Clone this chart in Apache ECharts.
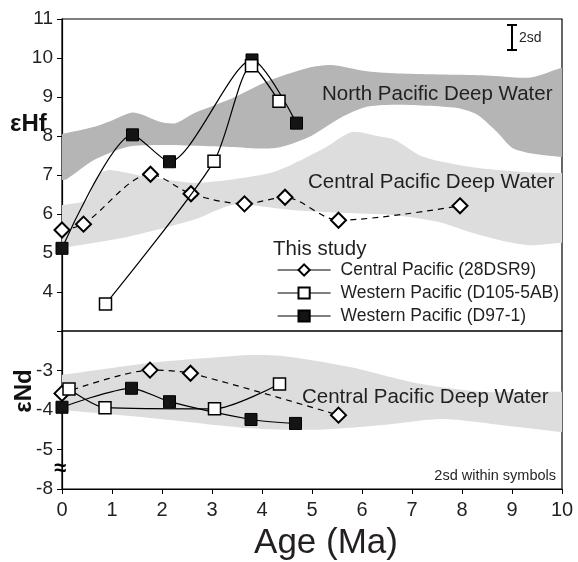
<!DOCTYPE html>
<html><head><meta charset="utf-8">
<script src="https://cdn.jsdelivr.net/npm/echarts@6/dist/echarts.min.js"></script>
<style>html,body{margin:0;padding:0;background:#fff}#c{width:578px;height:562px}</style>
</head><body><div id="c"></div>
<script>
// ---------- data ----------
const seriesNames = ['Central Pacific (28DSR9)', 'Western Pacific (D105-5AB)', 'Western Pacific (D97-1)'];

// upper panel (eHf)
const cpHfAge = [0.0, 0.43, 1.77, 2.58, 3.65, 4.46, 5.53, 7.96];
const cpHf    = [5.59, 5.74, 7.02, 6.52, 6.26, 6.43, 5.84, 6.21];
const wpAHfAge = [0.87, 3.04, 3.79, 4.34];
const wpAHf    = [3.69, 7.35, 9.80, 8.89];
const wpBHfAge = [0.0, 1.41, 2.15, 3.80, 4.69];
const wpBHf    = [5.12, 8.03, 7.34, 9.95, 8.33];

// lower panel (eNd)
const cpNdAge = [0.0, 1.76, 2.57, 5.53];
const cpNd    = [-3.58, -2.99, -3.07, -4.13];
const wpANdAge = [0.14, 0.86, 3.05, 4.35];
const wpANd    = [-3.47, -3.94, -3.97, -3.34];
const wpBNdAge = [0.0, 1.39, 2.15, 3.78, 4.67];
const wpBNd    = [-3.93, -3.45, -3.79, -4.24, -4.34];

// water-mass envelopes [age, value]
const npdwUpper = [[-0.2,8.0],[0,8.05],[0.63,8.23],[1.0,8.4],[1.43,8.6],[1.97,8.36],[2.27,8.33],[2.63,8.58],[3.37,8.95],[4.1,9.4],[4.93,9.75],[5.4,9.82],[6.1,9.66],[6.8,9.6],[8.5,9.55],[9.36,9.5],[10,9.75],[10.2,9.8]];
const npdwLower = [[-0.2,6.85],[0,6.87],[0.1,6.9],[0.63,7.38],[1.3,7.72],[1.97,7.77],[3.37,7.72],[4.26,7.69],[4.93,7.97],[5.6,8.49],[6.06,8.74],[6.66,8.8],[7.9,8.72],[8.3,8.55],[8.7,8.1],[9.0,7.7],[9.4,7.55],[10,7.46],[10.2,7.44]];
const cpdwHfUpper = [[-0.2,6.2],[0,6.23],[0.5,6.36],[0.63,6.82],[0.77,7.05],[0.97,7.13],[1.63,6.97],[2.63,6.8],[3.3,6.87],[4.26,7.09],[5.26,7.7],[5.8,8.1],[6.3,8.0],[6.66,7.9],[7.22,7.47],[8.22,7.2],[9.22,7.08],[10,7.05],[10.2,7.05]];
const cpdwHfLower = [[-0.2,5.1],[0,5.13],[1.3,5.41],[2.63,5.85],[3.3,6.2],[3.6,6.25],[4.6,6.1],[5.6,6.03],[6.66,5.97],[7.56,5.79],[8.22,5.51],[8.76,5.33],[9.36,5.2],[10,5.26],[10.2,5.27]];
const cpdwNdUpper = [[-0.2,-3.12],[0,-3.11],[1.76,-2.81],[3.76,-2.61],[4.42,-2.63],[5.76,-2.91],[7.1,-3.32],[8.42,-3.54],[10,-3.54],[10.2,-3.54]];
const cpdwNdLower = [[-0.2,-3.98],[0,-4.0],[1.76,-4.2],[3.76,-4.46],[5.1,-4.5],[6.42,-4.38],[7.62,-4.23],[8.76,-4.38],[10,-4.56],[10.2,-4.58]];

// tick labels
const ageTickLabels = ['0','1','2','3','4','5','6','7','8','9','10'];
const hfTickValues = [4,5,6,7,8,9,10,11];
const ndTickValues = [-6,-5,-4,-3];
const ndTickText   = ['-8','-5','-4','-3'];

// ---------- chart ----------
const FONT = 'Liberation Sans, Arial, sans-serif';
const INK = '#231f20';
const pairs = (xs, ys) => xs.map((x, i) => [x, ys[i]]);

function band(upper, lower, color, idx) {
  return {
    type: 'custom', xAxisIndex: idx, yAxisIndex: idx, silent: true, z: 1, clip: true,
    data: [[0, 0]],
    renderItem: (params, api) => {
      const pts = upper.map(p => api.coord(p)).concat(lower.slice().reverse().map(p => api.coord(p)));
      return { type: 'polygon', shape: { points: pts, smooth: 0.25 }, style: { fill: color } };
    }
  };
}

function lineSeries(name, data, kind, idx, smooth) {
  const s = {
    type: 'line', name: name, xAxisIndex: idx, yAxisIndex: idx, data: data,
    smooth: smooth, animation: false, showAllSymbol: true,
    lineStyle: { color: '#000', width: 1.2, type: 'solid' }
  };
  if (kind === 'diamond') {
    s.symbol = 'diamond'; s.symbolSize = [15, 15]; s.z = 4;
    s.itemStyle = { color: '#fff', borderColor: '#000', borderWidth: 2 };
    s.lineStyle.type = [6, 5];
  } else if (kind === 'open') {
    s.symbol = 'rect'; s.symbolSize = 12; s.z = 5;
    s.itemStyle = { color: '#fff', borderColor: '#000', borderWidth: 1.5 };
  } else {
    s.symbol = 'rect'; s.symbolSize = 12; s.z = 3;
    s.itemStyle = { color: '#141414', borderColor: '#000', borderWidth: 1 };
  }
  return s;
}

const chart = echarts.init(document.getElementById('c'), null, { renderer: 'canvas' });
chart.setOption({
  animation: false,
  backgroundColor: '#fff',
  textStyle: { fontFamily: FONT },
  grid: [
    { left: 62, right: 16, top: 19, height: 312, show: true, borderColor: '#000', borderWidth: 1.2, backgroundColor: 'transparent' },
    { left: 62, right: 16, top: 331, height: 158, show: true, borderColor: '#000', borderWidth: 1.2, backgroundColor: 'transparent' }
  ],
  xAxis: [
    { type: 'value', gridIndex: 0, min: 0, max: 10, interval: 1,
      axisLine: { show: false }, axisTick: { show: false }, axisLabel: { show: false }, splitLine: { show: false } },
    { type: 'value', gridIndex: 1, min: 0, max: 10, interval: 1,
      axisLine: { show: true, lineStyle: { color: '#000', width: 1.2 } },
      axisTick: { show: true, length: 5, lineStyle: { color: '#000' } },
      axisLabel: { fontSize: 20, color: INK, margin: 11, fontFamily: FONT, formatter: v => ageTickLabels[Math.round(v)] },
      splitLine: { show: false } }
  ],
  yAxis: [
    { type: 'value', gridIndex: 0, min: 3, max: 11, interval: 1,
      axisLine: { show: true, lineStyle: { color: '#000', width: 1.2 } },
      axisTick: { show: true, length: 5, lineStyle: { color: '#000' } },
      axisLabel: { fontSize: 19, color: INK, margin: 9, fontFamily: FONT,
        formatter: v => hfTickValues.includes(v) ? String(v) : '' },
      splitLine: { show: false } },
    { type: 'value', gridIndex: 1, min: -6, max: -2, interval: 1,
      axisLine: { show: true, lineStyle: { color: '#000', width: 1.2 } },
      axisTick: { show: true, length: 5, lineStyle: { color: '#000' } },
      axisLabel: { fontSize: 19, color: INK, margin: 9, fontFamily: FONT,
        formatter: v => { const i = ndTickValues.indexOf(v); return i >= 0 ? ndTickText[i] : ''; } },
      splitLine: { show: false } }
  ],
  legend: {
    data: seriesNames, orient: 'vertical', left: 277, top: 260, padding: 0,
    itemWidth: 53, itemHeight: 14, itemGap: 3,
    textStyle: { fontSize: 17.5, color: INK, fontFamily: FONT, padding: [0, 0, 0, 5], lineHeight: 20 },
    lineStyle: { type: 'solid', color: '#000', width: 1.2 },
    selectedMode: false
  },
  series: [
    band(npdwUpper, npdwLower, '#b5b5b5', 0),
    band(cpdwHfUpper, cpdwHfLower, '#dddddd', 0),
    band(cpdwNdUpper, cpdwNdLower, '#dddddd', 1),
    lineSeries(seriesNames[2], pairs(wpBHfAge, wpBHf), 'filled', 0, 0.25),
    lineSeries(seriesNames[0], pairs(cpHfAge, cpHf), 'diamond', 0, 0.3),
    lineSeries(seriesNames[1], pairs(wpAHfAge, wpAHf), 'open', 0, 0.25),
    lineSeries(seriesNames[2], pairs(wpBNdAge, wpBNd), 'filled', 1, 0.25),
    lineSeries(seriesNames[0], pairs(cpNdAge, cpNd), 'diamond', 1, 0.25),
    lineSeries(seriesNames[1], pairs(wpANdAge, wpANd), 'open', 1, 0.25)
  ],
  graphic: [
    { type: 'text', left: 322, top: 84, z: 2, style: { text: 'North Pacific Deep Water', font: '20.5px ' + FONT, fill: INK } },
    { type: 'text', left: 308, top: 172, z: 2, style: { text: 'Central Pacific Deep Water', font: '20.5px ' + FONT, fill: INK } },
    { type: 'text', left: 302, top: 387, z: 2, style: { text: 'Central Pacific Deep Water', font: '20.5px ' + FONT, fill: INK } },
    { type: 'text', left: 273, top: 239, z: 2, style: { text: 'This study', font: '20.5px ' + FONT, fill: INK } },
    { type: 'text', right: 22, top: 468, z: 2, style: { text: '2sd within symbols', font: '14.5px ' + FONT, fill: INK } },
    { type: 'line', z: 6, shape: { x1: 512, y1: 25, x2: 512, y2: 50 }, style: { stroke: '#000', lineWidth: 2 } },
    { type: 'line', z: 6, shape: { x1: 507, y1: 25, x2: 517, y2: 25 }, style: { stroke: '#000', lineWidth: 2 } },
    { type: 'line', z: 6, shape: { x1: 507, y1: 50, x2: 517, y2: 50 }, style: { stroke: '#000', lineWidth: 2 } },
    { type: 'text', left: 519, top: 31, z: 6, style: { text: '2sd', font: '14px ' + FONT, fill: INK } },
    { type: 'text', left: 54, top: 458, z: 6, style: { text: '≈', font: 'bold 22px ' + FONT, fill: '#000' } },
    { type: 'text', left: 10, top: 112, z: 6, style: { text: 'εHf', font: 'bold 24px ' + FONT, fill: '#111' } },
    { type: 'text', x: 24, y: 391, rotation: Math.PI / 2, z: 6,
      style: { text: 'εNd', font: 'bold 24px ' + FONT, fill: '#111', align: 'center', verticalAlign: 'middle' } },
    { type: 'text', x: 326, y: 543, z: 6,
      style: { text: 'Age (Ma)', font: '35px ' + FONT, fill: INK, align: 'center', verticalAlign: 'middle' } }
  ]
});
</script>
</body></html>
